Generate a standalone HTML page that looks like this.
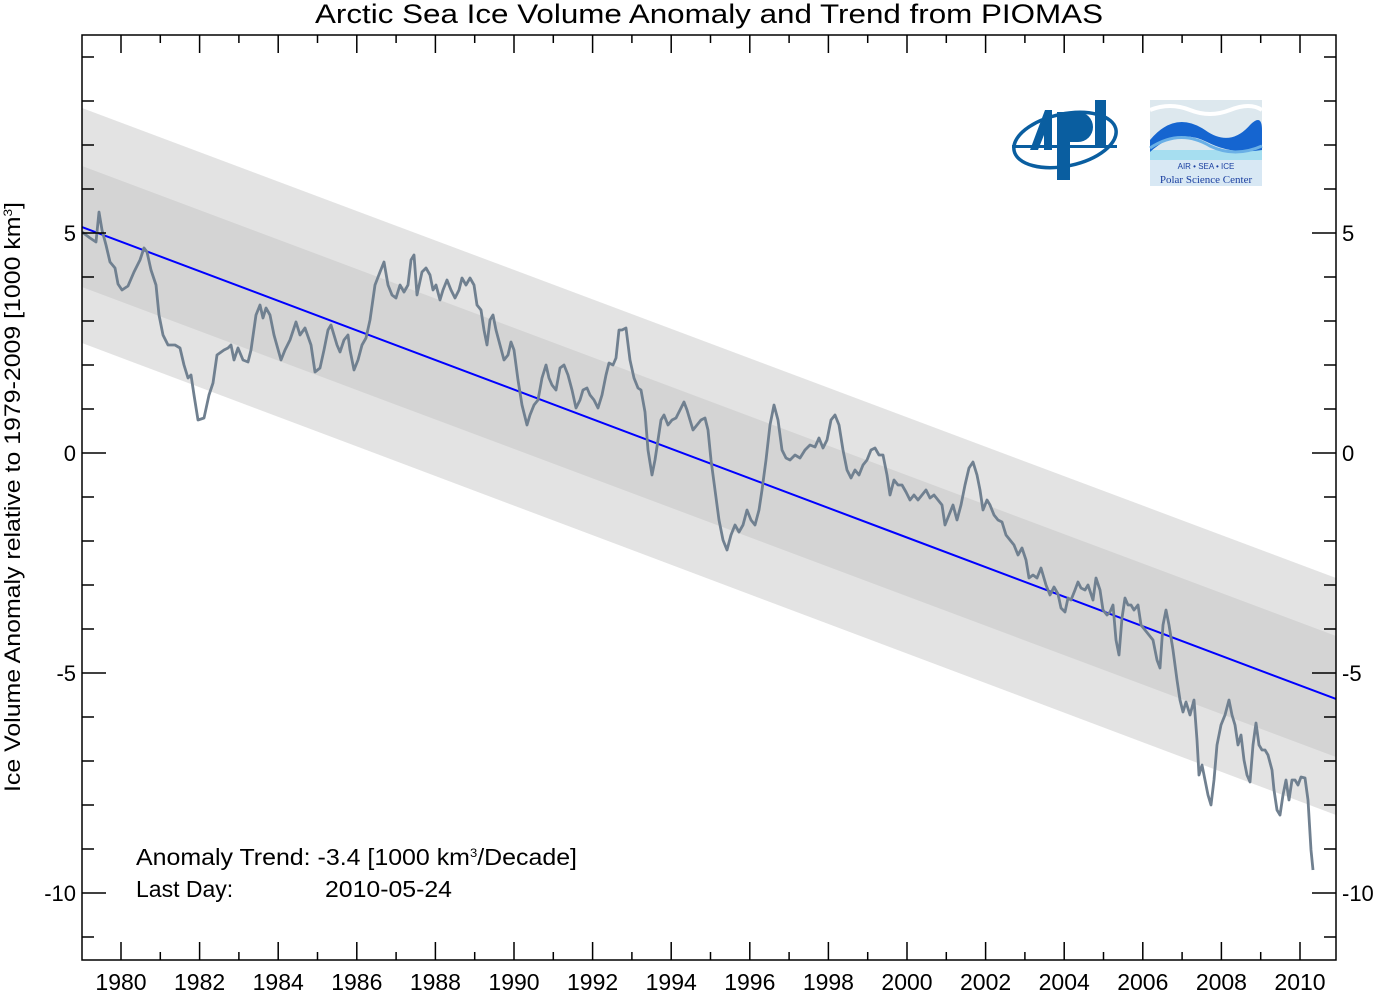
<!DOCTYPE html>
<html><head><meta charset="utf-8"><style>
html,body{margin:0;padding:0;background:#fff}
svg{display:block;font-family:"Liberation Sans",Arial,sans-serif}
</style></head><body>
<svg width="1378" height="992" viewBox="0 0 1378 992" xmlns="http://www.w3.org/2000/svg">
<rect width="1378" height="992" fill="#fff"/>
<text x="315" y="23" font-size="27" textLength="788" lengthAdjust="spacingAndGlyphs">Arctic Sea Ice Volume Anomaly and Trend from PIOMAS</text>
<clipPath id="c"><rect x="82" y="35" width="1254" height="925"/></clipPath>
<g clip-path="url(#c)">
<polygon points="82,108 1336,578 1336,815 82,343" fill="#e3e3e3"/>
<polygon points="82,166 1336,636 1336,757 82,287" fill="#d4d4d4"/>
<line x1="82" y1="227" x2="1336" y2="699" stroke="#0000ff" stroke-width="2"/>
<polyline fill="none" stroke="#708090" stroke-width="2.8" stroke-linejoin="round" points="82,232 90,238 96,242 99,212 102,230 106,245 110,262 115,268 118,284 122,290 128,286 134,272 140,260 144,248 147,252 151,270 156,285 159,315 163,335 168,345 175,345 180,348 184,365 188,378 191,375 194,395 198,420 204,418 209,395 213,383 217,355 224,350 228,348 231,345 234,360 238,348 243,360 248,362 251,350 256,315 260,305 263,318 266,308 270,315 274,335 281,360 285,350 290,340 296,322 300,335 305,328 311,345 315,372 320,368 324,350 328,330 331,325 334,335 337,345 340,352 344,340 348,335 350,350 354,370 358,360 362,345 366,338 370,320 375,285 380,272 384,262 388,285 392,295 396,298 400,285 404,292 408,285 411,260 414,255 417,295 422,272 426,268 430,275 433,290 436,285 440,300 443,290 447,280 451,290 455,298 459,290 462,278 466,285 470,278 474,285 477,305 481,310 484,330 487,345 490,320 493,315 496,330 500,345 504,360 508,355 511,342 514,350 518,380 522,405 527,425 530,415 534,405 538,400 542,378 546,365 549,378 552,385 556,390 560,368 564,365 568,375 572,390 576,408 580,400 583,390 587,388 590,395 594,400 598,408 602,395 606,375 609,363 613,365 616,358 619,330 622,330 626,328 630,360 634,378 638,388 641,390 645,412 648,450 652,475 655,460 658,440 661,420 664,415 668,425 672,420 676,418 680,410 684,402 687,410 690,420 693,430 697,425 701,420 705,418 708,430 711,460 715,490 719,520 723,540 727,550 731,535 735,525 739,532 743,525 747,510 751,520 755,525 759,510 762,490 766,460 770,425 774,405 778,420 782,450 786,458 790,460 795,455 800,458 805,450 810,445 815,447 819,438 823,448 827,440 831,420 835,415 839,425 843,450 847,470 851,478 855,470 859,475 863,465 867,460 871,450 875,448 879,455 883,455 887,475 890,495 894,480 898,485 902,485 906,492 910,500 914,495 918,500 922,495 926,490 930,498 934,495 938,500 942,505 945,525 949,515 953,505 957,520 961,505 965,485 969,468 973,462 977,475 980,490 983,510 987,500 990,505 994,515 998,520 1002,522 1006,535 1010,540 1014,545 1018,555 1022,548 1026,560 1029,578 1033,575 1037,578 1041,568 1046,585 1050,595 1054,587 1058,594 1061,608 1065,612 1068,598 1071,600 1075,590 1078,582 1081,588 1085,590 1088,585 1093,600 1096,578 1100,590 1103,610 1107,615 1110,612 1113,605 1116,640 1119,655 1122,618 1125,598 1128,605 1131,605 1134,610 1138,605 1141,625 1145,630 1149,635 1153,640 1157,660 1160,668 1163,625 1166,610 1169,625 1173,650 1177,680 1180,700 1183,712 1186,702 1190,715 1194,700 1197,740 1199,775 1202,765 1205,780 1208,795 1211,805 1214,780 1217,745 1221,725 1225,715 1229,700 1232,715 1235,725 1238,745 1241,735 1244,760 1247,775 1250,782 1253,745 1256,723 1259,745 1262,750 1265,750 1268,755 1272,770 1274,790 1277,810 1280,815 1283,795 1286,780 1289,800 1292,780 1295,780 1298,785 1301,777 1305,778 1308,800 1311,850 1313,870"/>
</g>
<rect x="82" y="35" width="1254" height="925" fill="none" stroke="#000" stroke-width="1.5"/>
<g stroke="#000" stroke-width="1.5">
<path d="M82,57h12M82,101h12M82,145h12M82,189h12M82,233h24M82,277h12M82,321h12M82,365h12M82,409h12M82,453h24M82,497h12M82,541h12M82,585h12M82,629h12M82,673h24M82,717h12M82,761h12M82,805h12M82,849h12M82,893h24M82,937h12"/>
<path d="M1336,57h-12M1336,101h-12M1336,145h-12M1336,189h-12M1336,233h-24M1336,277h-12M1336,321h-12M1336,365h-12M1336,409h-12M1336,453h-24M1336,497h-12M1336,541h-12M1336,585h-12M1336,629h-12M1336,673h-24M1336,717h-12M1336,761h-12M1336,805h-12M1336,849h-12M1336,893h-24M1336,937h-12"/>
<path d="M121,960v-18M160.3,960v-8M199.6,960v-18M238.9,960v-8M278.2,960v-18M317.5,960v-8M356.8,960v-18M396.1,960v-8M435.4,960v-18M474.7,960v-8M514,960v-18M553.3,960v-8M592.6,960v-18M631.9,960v-8M671.2,960v-18M710.5,960v-8M749.8,960v-18M789.1,960v-8M828.4,960v-18M867.7,960v-8M907,960v-18M946.3,960v-8M985.6,960v-18M1024.9,960v-8M1064.2,960v-18M1103.5,960v-8M1142.8,960v-18M1182.1,960v-8M1221.4,960v-18M1260.7,960v-8M1300,960v-18"/>
<path d="M121,35v18M160.3,35v8M199.6,35v18M238.9,35v8M278.2,35v18M317.5,35v8M356.8,35v18M396.1,35v8M435.4,35v18M474.7,35v8M514,35v18M553.3,35v8M592.6,35v18M631.9,35v8M671.2,35v18M710.5,35v8M749.8,35v18M789.1,35v8M828.4,35v18M867.7,35v8M907,35v18M946.3,35v8M985.6,35v18M1024.9,35v8M1064.2,35v18M1103.5,35v8M1142.8,35v18M1182.1,35v8M1221.4,35v18M1260.7,35v8M1300,35v18"/>
</g>
<g font-size="22" text-anchor="end">
<text x="76" y="241">5</text><text x="76" y="461">0</text><text x="76" y="681">-5</text><text x="76" y="901">-10</text>
</g>
<g font-size="22" text-anchor="start">
<text x="1342" y="241">5</text><text x="1342" y="461">0</text><text x="1342" y="681">-5</text><text x="1342" y="901">-10</text>
</g>
<g font-size="23" text-anchor="middle">
<text x="121" y="990">1980</text><text x="199.6" y="990">1982</text><text x="278.2" y="990">1984</text><text x="356.8" y="990">1986</text><text x="435.4" y="990">1988</text><text x="514" y="990">1990</text><text x="592.6" y="990">1992</text><text x="671.2" y="990">1994</text><text x="749.8" y="990">1996</text><text x="828.4" y="990">1998</text><text x="907" y="990">2000</text><text x="985.6" y="990">2002</text><text x="1064.2" y="990">2004</text><text x="1142.8" y="990">2006</text><text x="1221.4" y="990">2008</text><text x="1300" y="990">2010</text>
</g>
<text transform="translate(20,792) rotate(-90)" font-size="22" textLength="590" lengthAdjust="spacingAndGlyphs">Ice Volume Anomaly relative to 1979-2009 [1000 km<tspan font-size="12" dy="-8">3</tspan><tspan dy="8">]</tspan></text>
<text x="136" y="865" font-size="23" textLength="441" lengthAdjust="spacingAndGlyphs">Anomaly Trend: -3.4 [1000 km<tspan font-size="12" dy="-8">3</tspan><tspan dy="8">/Decade]</tspan></text>
<text x="136" y="897" font-size="23">Last Day:</text>
<text x="325" y="897" font-size="23" textLength="127" lengthAdjust="spacingAndGlyphs">2010-05-24</text>
<g fill="none" stroke="#0a5ea0" stroke-width="3.5">
<ellipse cx="1065" cy="140" rx="52" ry="26" transform="rotate(-12 1065 140)"/>
</g>
<g fill="#0a5ea0">
<polygon points="1030,150 1045,110 1052,110 1052,150 1044,150 1044,135 1038,150"/>
<rect x="1057" y="112" width="13" height="68"/>
<path d="M1070,112 h8 a14,14 0 0 1 0,30 h-8 z"/>
<rect x="1095" y="100" width="11" height="48"/>
<rect x="1012" y="145" width="105" height="3"/>
</g>
<rect x="1150" y="100" width="112" height="86" fill="#dde8ee"/>
<path d="M1150,110 q20,-8 40,0 t40,0 t32,0" stroke="#fff" stroke-width="4" fill="none"/>
<rect x="1150" y="150" width="112" height="10" fill="#a6def0"/>
<path d="M1150,140 q25,-30 55,-10 q25,18 45,-5 q12,-12 12,5 l0,20 q-30,5 -55,-8 q-30,-15 -57,10 z" fill="#1565d0"/>
<path d="M1150,148 q30,-20 60,-2 q25,12 52,0" stroke="#6ab0e6" stroke-width="3" fill="none"/>
<rect x="1150" y="160" width="112" height="26" fill="#d8e8f4"/>
<text x="1206" y="169" font-size="8" fill="#1a3fa0" text-anchor="middle">AIR  •  SEA  •  ICE</text>
<text x="1206" y="183" font-size="11" fill="#1a3fa0" text-anchor="middle" font-family="Liberation Serif,serif">Polar Science Center</text>
</svg>
</body></html>
